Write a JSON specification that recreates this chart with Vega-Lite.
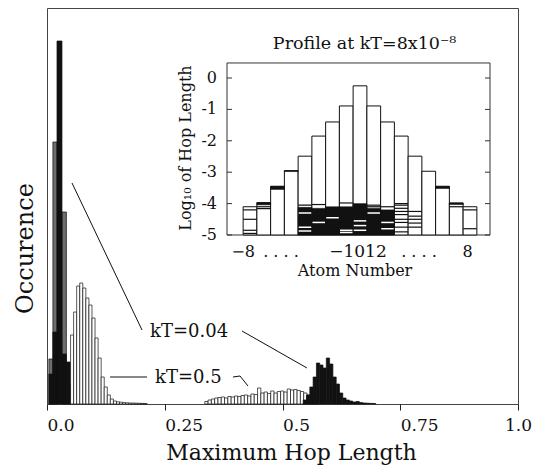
{
  "$schema": "https://vega.github.io/schema/vega-lite/v6.json",
  "width": 471,
  "height": 396,
  "autosize": {"type": "none"},
  "padding": {"left": 47, "top": 8, "right": 26, "bottom": 64},
  "config": {
    "font": "DejaVu Serif",
    "view": {"stroke": "#444", "strokeWidth": 1},
    "background": "white"
  },
  "datasets": {
    "w": [
      {"a": 0.0435, "b": 0.05, "h": 20},
      {"a": 0.05, "b": 0.0565, "h": 69},
      {"a": 0.0565, "b": 0.063, "h": 92},
      {"a": 0.063, "b": 0.0695, "h": 118},
      {"a": 0.0695, "b": 0.076, "h": 121},
      {"a": 0.076, "b": 0.0825, "h": 116},
      {"a": 0.0825, "b": 0.089, "h": 106},
      {"a": 0.089, "b": 0.0955, "h": 99},
      {"a": 0.0955, "b": 0.102, "h": 86},
      {"a": 0.102, "b": 0.1085, "h": 66},
      {"a": 0.1085, "b": 0.115, "h": 46},
      {"a": 0.115, "b": 0.1215, "h": 27},
      {"a": 0.1215, "b": 0.128, "h": 17},
      {"a": 0.128, "b": 0.1345, "h": 9},
      {"a": 0.1345, "b": 0.141, "h": 5},
      {"a": 0.141, "b": 0.1475, "h": 3},
      {"a": 0.1475, "b": 0.154, "h": 2.2},
      {"a": 0.154, "b": 0.1605, "h": 1.8},
      {"a": 0.1605, "b": 0.167, "h": 1.4},
      {"a": 0.167, "b": 0.1735, "h": 1.2},
      {"a": 0.1735, "b": 0.18, "h": 1},
      {"a": 0.18, "b": 0.1865, "h": 1},
      {"a": 0.1865, "b": 0.193, "h": 0.8},
      {"a": 0.193, "b": 0.1995, "h": 0.7},
      {"a": 0.1995, "b": 0.206, "h": 0.6},
      {"a": 0.206, "b": 0.2125, "h": 0.5},
      {"a": 0.335, "b": 0.342, "h": 2.5},
      {"a": 0.342, "b": 0.349, "h": 4},
      {"a": 0.349, "b": 0.356, "h": 5},
      {"a": 0.356, "b": 0.363, "h": 6},
      {"a": 0.363, "b": 0.37, "h": 6.5},
      {"a": 0.37, "b": 0.377, "h": 7},
      {"a": 0.377, "b": 0.384, "h": 6},
      {"a": 0.384, "b": 0.391, "h": 7.5},
      {"a": 0.391, "b": 0.398, "h": 7},
      {"a": 0.398, "b": 0.405, "h": 8},
      {"a": 0.405, "b": 0.412, "h": 7.5},
      {"a": 0.412, "b": 0.419, "h": 8.5},
      {"a": 0.419, "b": 0.426, "h": 9},
      {"a": 0.426, "b": 0.433, "h": 8},
      {"a": 0.433, "b": 0.44, "h": 10},
      {"a": 0.44, "b": 0.447, "h": 9.5},
      {"a": 0.447, "b": 0.454, "h": 16},
      {"a": 0.454, "b": 0.461, "h": 11},
      {"a": 0.461, "b": 0.468, "h": 12},
      {"a": 0.468, "b": 0.475, "h": 10.5},
      {"a": 0.475, "b": 0.482, "h": 13},
      {"a": 0.482, "b": 0.489, "h": 11},
      {"a": 0.489, "b": 0.496, "h": 12.5},
      {"a": 0.496, "b": 0.503, "h": 13},
      {"a": 0.503, "b": 0.51, "h": 12},
      {"a": 0.51, "b": 0.517, "h": 15},
      {"a": 0.517, "b": 0.524, "h": 14},
      {"a": 0.524, "b": 0.531, "h": 14.5},
      {"a": 0.531, "b": 0.538, "h": 13.5},
      {"a": 0.538, "b": 0.545, "h": 12.5},
      {"a": 0.545, "b": 0.552, "h": 11},
      {"a": 0.552, "b": 0.559, "h": 9},
      {"a": 0.559, "b": 0.566, "h": 6},
      {"a": 0.566, "b": 0.573, "h": 4}
    ],
    "g": [
      {"a": 0.004, "b": 0.0125, "h": 45},
      {"a": 0.0125, "b": 0.0212, "h": 262},
      {"a": 0.0318, "b": 0.0412, "h": 192}
    ],
    "k": [
      {"a": 0.004, "b": 0.0125, "h": 30},
      {"a": 0.0125, "b": 0.0212, "h": 72},
      {"a": 0.0212, "b": 0.0318, "h": 363},
      {"a": 0.0318, "b": 0.0412, "h": 50},
      {"a": 0.0412, "b": 0.049, "h": 42},
      {"a": 0.544, "b": 0.551, "h": 4},
      {"a": 0.551, "b": 0.558, "h": 9},
      {"a": 0.558, "b": 0.565, "h": 17},
      {"a": 0.565, "b": 0.572, "h": 27},
      {"a": 0.572, "b": 0.579, "h": 41},
      {"a": 0.579, "b": 0.586, "h": 39},
      {"a": 0.586, "b": 0.593, "h": 36},
      {"a": 0.593, "b": 0.6, "h": 46},
      {"a": 0.6, "b": 0.607, "h": 40},
      {"a": 0.607, "b": 0.614, "h": 27},
      {"a": 0.614, "b": 0.621, "h": 20},
      {"a": 0.621, "b": 0.628, "h": 11},
      {"a": 0.628, "b": 0.635, "h": 6},
      {"a": 0.635, "b": 0.642, "h": 4},
      {"a": 0.642, "b": 0.649, "h": 3},
      {"a": 0.649, "b": 0.656, "h": 2},
      {"a": 0.656, "b": 0.663, "h": 2.5},
      {"a": 0.663, "b": 0.67, "h": 1.5},
      {"a": 0.67, "b": 0.677, "h": 1},
      {"a": 0.677, "b": 0.684, "h": 0.8},
      {"a": 0.684, "b": 0.691, "h": 0.6},
      {"a": 0.691, "b": 0.698, "h": 0.5}
    ],
    "lead": [
      {"id": 1, "k": 0, "x": 0.0531, "y": 221},
      {"id": 1, "k": 1, "x": 0.2017, "y": 74},
      {"id": 2, "k": 0, "x": 0.414, "y": 73},
      {"id": 2, "k": 1, "x": 0.552, "y": 36},
      {"id": 3, "k": 0, "x": 0.1338, "y": 27},
      {"id": 3, "k": 1, "x": 0.2123, "y": 27},
      {"id": 4, "k": 0, "x": 0.3949, "y": 27},
      {"id": 4, "k": 1, "x": 0.4098, "y": 28},
      {"id": 4, "k": 2, "x": 0.4268, "y": 18}
    ],
    "prof": [
      {"atom": -8, "lo": -8.5, "hi": -7.5, "top": -4.1},
      {"atom": -7, "lo": -7.5, "hi": -6.5, "top": -3.97},
      {"atom": -6, "lo": -6.5, "hi": -5.5, "top": -3.45},
      {"atom": -5, "lo": -5.5, "hi": -4.5, "top": -2.95},
      {"atom": -4, "lo": -4.5, "hi": -3.5, "top": -2.49},
      {"atom": -3, "lo": -3.5, "hi": -2.5, "top": -1.85},
      {"atom": -2, "lo": -2.5, "hi": -1.5, "top": -1.4},
      {"atom": -1, "lo": -1.5, "hi": -0.5, "top": -0.89},
      {"atom": 0, "lo": -0.5, "hi": 0.5, "top": -0.25},
      {"atom": 1, "lo": 0.5, "hi": 1.5, "top": -0.89},
      {"atom": 2, "lo": 1.5, "hi": 2.5, "top": -1.4},
      {"atom": 3, "lo": 2.5, "hi": 3.5, "top": -1.85},
      {"atom": 4, "lo": 3.5, "hi": 4.5, "top": -2.49},
      {"atom": 5, "lo": 4.5, "hi": 5.5, "top": -2.97},
      {"atom": 6, "lo": 5.5, "hi": 6.5, "top": -3.45},
      {"atom": 7, "lo": 6.5, "hi": 7.5, "top": -3.98},
      {"atom": 8, "lo": 7.5, "hi": 8.5, "top": -4.1}
    ],
    "dense": [
      {"lo": -4.5, "hi": -3.5, "top": -4.12, "bot": -5},
      {"lo": -3.5, "hi": -2.5, "top": -4.15, "bot": -5},
      {"lo": -2.5, "hi": -1.5, "top": -4.1, "bot": -5},
      {"lo": -1.5, "hi": -0.5, "top": -4.1, "bot": -5},
      {"lo": -0.5, "hi": 0.5, "top": -4.0, "bot": -5},
      {"lo": 0.5, "hi": 1.5, "top": -4.15, "bot": -5},
      {"lo": 1.5, "hi": 2.5, "top": -4.2, "bot": -5},
      {"lo": -7.5, "hi": -6.5, "top": -3.97, "bot": -4.04},
      {"lo": -6.5, "hi": -5.5, "top": -3.45, "bot": -3.55},
      {"lo": 5.5, "hi": 6.5, "top": -3.45, "bot": -3.52},
      {"lo": 6.5, "hi": 7.5, "top": -3.98, "bot": -4.03},
      {"lo": -5.5, "hi": -4.5, "top": -2.95, "bot": -2.98}
    ],
    "lk": [
      {"atom": -8, "lv": -4.2},
      {"atom": -8, "lv": -4.5},
      {"atom": -8, "lv": -4.85},
      {"atom": -8, "lv": -4.95},
      {"atom": -7, "lv": -4.1},
      {"atom": -7, "lv": -4.16},
      {"atom": -4, "lv": -4.05},
      {"atom": -3, "lv": -4.03},
      {"atom": -1, "lv": -3.98},
      {"atom": 1, "lv": -4.05},
      {"atom": 1, "lv": -4.1},
      {"atom": 2, "lv": -4.1},
      {"atom": 3, "lv": -4.0},
      {"atom": 3, "lv": -4.05},
      {"atom": 3, "lv": -4.15},
      {"atom": 3, "lv": -4.25},
      {"atom": 3, "lv": -4.35},
      {"atom": 3, "lv": -4.5},
      {"atom": 3, "lv": -4.6},
      {"atom": 3, "lv": -4.75},
      {"atom": 3, "lv": -4.9},
      {"atom": 4, "lv": -4.25},
      {"atom": 4, "lv": -4.4},
      {"atom": 4, "lv": -4.5},
      {"atom": 4, "lv": -4.62},
      {"atom": 4, "lv": -4.75},
      {"atom": 7, "lv": -4.1},
      {"atom": 8, "lv": -4.2},
      {"atom": 8, "lv": -4.8}
    ],
    "lw": [
      {"atom": -4, "lv": -4.3},
      {"atom": -4, "lv": -4.75},
      {"atom": -4, "lv": -4.87},
      {"atom": -3, "lv": -4.6},
      {"atom": -2, "lv": -4.45},
      {"atom": -1, "lv": -4.85},
      {"atom": -1, "lv": -4.92},
      {"atom": 0, "lv": -4.55},
      {"atom": 0, "lv": -4.7},
      {"atom": 0, "lv": -4.85},
      {"atom": 1, "lv": -4.3},
      {"atom": 2, "lv": -4.6},
      {"atom": 2, "lv": -4.8}
    ],
    "yt": [
      {"v": 0, "t": "0"},
      {"v": -1, "t": "-1"},
      {"v": -2, "t": "-2"},
      {"v": -3, "t": "-3"},
      {"v": -4, "t": "-4"},
      {"v": -5, "t": "-5"}
    ],
    "one": [{}]
  },
  "resolve": {"scale": {"x": "independent", "y": "independent"}},
  "layer": [
    {
      "layer": [
        {
          "data": {"name": "w"},
          "mark": {"type": "rect", "fill": "white", "stroke": "#111", "strokeWidth": 0.7},
          "encoding": {
            "x": {"field": "a", "type": "quantitative", "scale": {"domain": [0, 1], "nice": false, "zero": false},
              "axis": {
                "values": [0, 0.25, 0.5, 0.75, 1],
                "labelExpr": "datum.value == 0 ? '0.0' : datum.value == 0.25 ? '0.25' : datum.value == 0.5 ? '0.5' : datum.value == 0.75 ? '0.75' : '1.0'",
                "grid": false, "domain": false, "ticks": true, "tickSize": 6, "tickColor": "#222",
                "labelFont": "DejaVu Serif", "labelFontSize": 17, "labelColor": "#111",
                "labelAlign": {"condition": {"test": "datum.value == 1", "value": "center"}, "value": "left"},
                "labelDx": -6, "labelBaseline": "alphabetic", "labelPadding": 20,
                "labelFlush": false, "labelOverlap": false,
                "title": "Maximum Hop Length", "titleFont": "DejaVu Serif", "titleFontSize": 22,
                "titleFontWeight": "normal", "titleColor": "#111", "titleX": 244, "titleY": 55,
                "titleBaseline": "alphabetic", "titleAlign": "center"
              }},
            "x2": {"field": "b"},
            "y": {"field": "h", "type": "quantitative", "scale": {"domain": [0, 396], "nice": false},
              "axis": {
                "grid": false, "domain": false, "ticks": false, "labels": false,
                "title": "Occurence", "titleFont": "DejaVu Serif", "titleFontSize": 24,
                "titleFontWeight": "normal", "titleColor": "#111", "titleX": -15, "titleY": 240,
                "titleAngle": 270, "titleBaseline": "alphabetic", "titleAlign": "center"
              }},
            "y2": {"datum": 0}
          }
        },
        {
          "data": {"name": "g"},
          "mark": {"type": "rect", "fill": "#6e6e6e", "stroke": "#111", "strokeWidth": 0.7},
          "encoding": {
            "x": {"field": "a", "type": "quantitative"},
            "x2": {"field": "b"},
            "y": {"field": "h", "type": "quantitative"},
            "y2": {"datum": 0}
          }
        },
        {
          "data": {"name": "k"},
          "mark": {"type": "rect", "fill": "#111", "stroke": "#111", "strokeWidth": 0.7},
          "encoding": {
            "x": {"field": "a", "type": "quantitative"},
            "x2": {"field": "b"},
            "y": {"field": "h", "type": "quantitative"},
            "y2": {"datum": 0}
          }
        },
        {
          "data": {"name": "lead"},
          "mark": {"type": "line", "color": "#111", "strokeWidth": 1},
          "encoding": {
            "x": {"field": "x", "type": "quantitative"},
            "y": {"field": "y", "type": "quantitative"},
            "detail": {"field": "id"},
            "order": {"field": "k"}
          }
        },
        {
          "data": {"name": "one"},
          "mark": {"type": "text", "text": "kT=0.04", "fontSize": 18, "align": "left", "baseline": "alphabetic", "color": "#111"},
          "encoding": {"x": {"datum": 0.2187}, "y": {"datum": 67}}
        },
        {
          "data": {"name": "one"},
          "mark": {"type": "text", "text": "kT=0.5", "fontSize": 18, "align": "left", "baseline": "alphabetic", "color": "#111"},
          "encoding": {"x": {"datum": 0.2293}, "y": {"datum": 21}}
        }
      ]
    },
    {
      "layer": [
        {
          "data": {"name": "one"},
          "mark": {"type": "rect", "filled": false, "stroke": "#333", "strokeWidth": 1},
          "encoding": {
            "x": {"datum": -9.673, "type": "quantitative", "scale": {"domain": [-22.764, 11.491], "nice": false, "zero": false}, "axis": null},
            "x2": {"datum": 9.455},
            "y": {"datum": -5, "type": "quantitative", "scale": {"domain": [-10.382, 2.229], "nice": false, "zero": false}, "axis": null},
            "y2": {"datum": 0.478}
          }
        },
        {
          "data": {"name": "prof"},
          "mark": {"type": "rect", "fill": "white", "stroke": "#111", "strokeWidth": 1},
          "encoding": {
            "x": {"field": "lo", "type": "quantitative"},
            "x2": {"field": "hi"},
            "y": {"field": "top", "type": "quantitative"},
            "y2": {"datum": -5}
          }
        },
        {
          "data": {"name": "dense"},
          "mark": {"type": "rect", "fill": "#111", "stroke": "#111", "strokeWidth": 0.5},
          "encoding": {
            "x": {"field": "lo", "type": "quantitative"},
            "x2": {"field": "hi"},
            "y": {"field": "top", "type": "quantitative"},
            "y2": {"field": "bot"}
          }
        },
        {
          "data": {"name": "lk"},
          "mark": {"type": "tick", "orient": "horizontal", "size": 13.5, "thickness": 1.2, "color": "#111", "opacity": 1},
          "encoding": {
            "x": {"field": "atom", "type": "quantitative"},
            "y": {"field": "lv", "type": "quantitative"}
          }
        },
        {
          "data": {"name": "lw"},
          "mark": {"type": "tick", "orient": "horizontal", "size": 12.5, "thickness": 1.5, "color": "white", "opacity": 1},
          "encoding": {
            "x": {"field": "atom", "type": "quantitative"},
            "y": {"field": "lv", "type": "quantitative"}
          }
        },
        {
          "data": {"name": "yt"},
          "mark": {"type": "rule", "color": "#333", "strokeWidth": 1},
          "encoding": {
            "x": {"datum": -9.673},
            "x2": {"datum": -9.31},
            "y": {"field": "v", "type": "quantitative"}
          }
        },
        {
          "data": {"name": "yt"},
          "mark": {"type": "rule", "color": "#333", "strokeWidth": 1},
          "encoding": {
            "x": {"datum": 9.09},
            "x2": {"datum": 9.455},
            "y": {"field": "v", "type": "quantitative"}
          }
        },
        {
          "data": {"name": "yt"},
          "mark": {"type": "text", "fontSize": 16, "align": "right", "baseline": "middle", "color": "#111"},
          "encoding": {
            "x": {"datum": -10.4},
            "y": {"field": "v", "type": "quantitative"},
            "text": {"field": "t"}
          }
        },
        {
          "data": {"name": "one"},
          "mark": {"type": "text", "text": "−8", "fontSize": 16, "align": "center", "baseline": "alphabetic", "color": "#111"},
          "encoding": {"x": {"datum": -8.49}, "y": {"datum": -5.71}}
        },
        {
          "data": {"name": "one"},
          "mark": {"type": "text", "text": ". . . .", "fontSize": 16, "align": "center", "baseline": "alphabetic", "color": "#111"},
          "encoding": {"x": {"datum": -5.75}, "y": {"datum": -5.71}}
        },
        {
          "data": {"name": "one"},
          "mark": {"type": "text", "text": "−1012", "fontSize": 17, "align": "center", "baseline": "alphabetic", "color": "#111"},
          "encoding": {"x": {"datum": -0.15}, "y": {"datum": -5.71}}
        },
        {
          "data": {"name": "one"},
          "mark": {"type": "text", "text": ". . . .", "fontSize": 16, "align": "center", "baseline": "alphabetic", "color": "#111"},
          "encoding": {"x": {"datum": 4.29}, "y": {"datum": -5.71}}
        },
        {
          "data": {"name": "one"},
          "mark": {"type": "text", "text": "8", "fontSize": 16, "align": "center", "baseline": "alphabetic", "color": "#111"},
          "encoding": {"x": {"datum": 7.83}, "y": {"datum": -5.71}}
        },
        {
          "data": {"name": "one"},
          "mark": {"type": "text", "text": "Atom Number", "fontSize": 16, "align": "center", "baseline": "alphabetic", "color": "#111"},
          "encoding": {"x": {"datum": -0.36}, "y": {"datum": -6.31}}
        },
        {
          "data": {"name": "one"},
          "mark": {"type": "text", "text": "Log₁₀ of Hop Length", "fontSize": 16, "angle": 270, "align": "center", "baseline": "alphabetic", "color": "#111"},
          "encoding": {"x": {"datum": -12.3}, "y": {"datum": -2.23}}
        },
        {
          "data": {"name": "one"},
          "mark": {"type": "text", "text": "Profile at kT=8x10⁻⁸", "fontSize": 17.5, "align": "center", "baseline": "alphabetic", "color": "#111"},
          "encoding": {"x": {"datum": 0.33}, "y": {"datum": 0.92}}
        }
      ]
    }
  ]
}
